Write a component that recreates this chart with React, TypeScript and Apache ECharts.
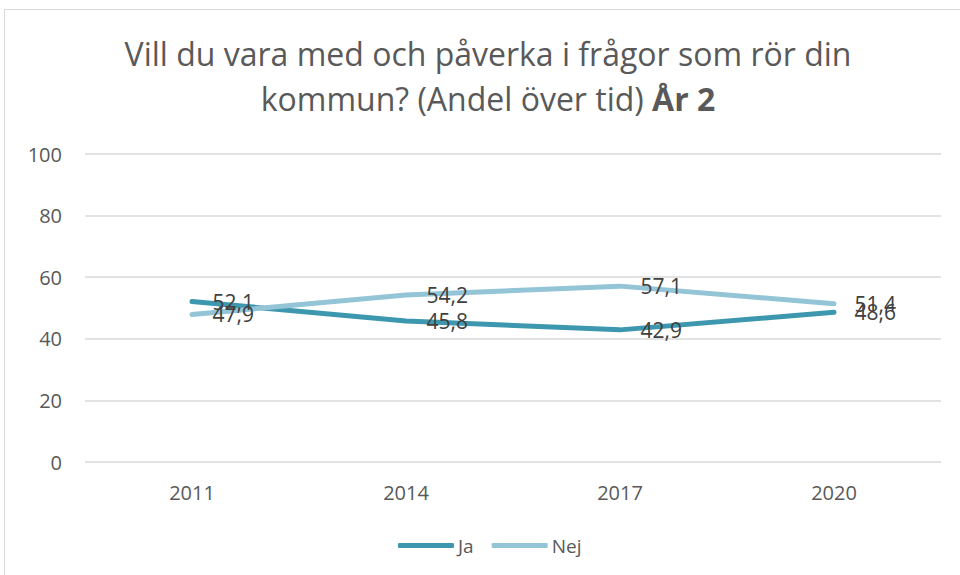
import React, { useEffect, useRef } from "react";
import * as echarts from "echarts";

const categories = ["2011", "2014", "2017", "2020"];
const jaValues = [52.1, 45.8, 42.9, 48.6];
const nejValues = [47.9, 54.2, 57.1, 51.4];
const seriesNames = ["Ja", "Nej"];
const seriesColors = ["#3D97AE", "#93C5D6"];

const fmt = (v: number) => v.toFixed(1).replace(".", ",");

export default function App() {
  const ref = useRef<HTMLDivElement>(null);
  useEffect(() => {
    const chart = echarts.init(ref.current!, null, { renderer: "svg" });
    const font = "'Open Sans', 'Noto Sans', sans-serif";
    const labelCfg = {
      show: true,
      position: "right" as const,
      distance: 20,
      color: "#404040",
      fontSize: 21,
      fontFamily: font,
      formatter: (p: any) => fmt(p.value),
    };
    const mkSeries = (name: string, data: number[], color: string) => ({
      name,
      type: "line",
      data,
      symbol: "circle",
      symbolSize: 1,
      showSymbol: true,
      color,
      itemStyle: { color: "rgba(0,0,0,0)", borderWidth: 0 },
      lineStyle: { width: 5, color, cap: "round", join: "round" },
      label: labelCfg,
      labelLayout: { hideOverlap: false },
      emphasis: { disabled: true },
    });
    chart.setOption({
      animation: false,
      backgroundColor: "#fff",
      graphic: [
        {
          type: "rect",
          shape: { x: 4.5, y: 9.5, width: 1000, height: 1000 },
          style: { fill: "none", stroke: "#d9d9d9", lineWidth: 1 },
          silent: true,
        },
      ],
      title: {
        text: "Vill du vara med och påverka i frågor som rör din\nkommun? (Andel över tid) {b|År 2}",
        left: 488,
        textAlign: "center",
        top: 31,
        padding: 0,
        textStyle: {
          color: "#595959",
          fontSize: 32,
          fontWeight: "normal",
          fontFamily: font,
          lineHeight: 45,
          rich: {
            b: { fontWeight: "bold", fontSize: 32, color: "#595959", fontFamily: font, lineHeight: 45 },
          },
        },
      },
      legend: {
        data: seriesNames.map((n, i) => ({
          name: n,
          icon: "roundRect",
          itemStyle: { color: seriesColors[i], opacity: 1, borderWidth: 0 },
        })),
        top: 536,
        padding: 0,
        left: 398,
        itemWidth: 56,
        itemHeight: 5,
        itemGap: 18,
        textStyle: { color: "#595959", fontSize: 19, fontFamily: font, padding: [0, 0, 0, -1] },
      },
      grid: { left: 85, right: 19, top: 154, bottom: 113 },
      xAxis: {
        type: "category",
        data: categories,
        boundaryGap: true,
        axisLine: { show: false },
        axisTick: { show: false },
        axisLabel: { color: "#595959", fontSize: 20, margin: 20, fontFamily: font },
      },
      yAxis: {
        type: "value",
        min: 0,
        max: 100,
        interval: 20,
        axisLine: { show: false },
        axisTick: { show: false },
        axisLabel: { color: "#595959", fontSize: 20, margin: 23, fontFamily: font },
        splitLine: { lineStyle: { color: "#d9d9d9", width: 1.5 } },
      },
      series: [
        mkSeries(seriesNames[0], jaValues, seriesColors[0]),
        mkSeries(seriesNames[1], nejValues, seriesColors[1]),
      ],
    });
    return () => chart.dispose();
  }, []);
  return (
    <div
      ref={ref}
      style={{ position: "fixed", left: 0, top: 0, width: 960, height: 575 }}
    />
  );
}
